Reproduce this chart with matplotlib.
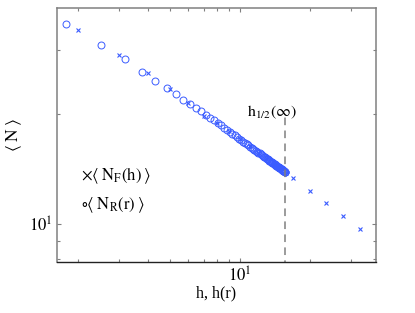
import numpy as np
import matplotlib
matplotlib.use("Agg")
import matplotlib.pyplot as plt
from matplotlib.ticker import LogLocator, NullFormatter, FixedLocator, FixedFormatter

plt.rcParams['font.family'] = ['Liberation Serif', 'DejaVu Serif']
plt.rcParams['mathtext.fontset'] = 'stix'

# <N_R(r)> plotted against h(r)  (circles)
h_r = [1.78, 2.53, 3.20, 3.80, 4.32, 4.87, 5.31, 5.69, 6.10, 6.47, 6.82,
       7.15, 7.45, 7.75, 8.02, 8.3, 8.55, 8.8, 9.05, 9.28, 9.5, 9.72, 9.93,
       10.13, 10.33, 10.52, 10.7, 10.88, 11.05, 11.22, 11.38, 11.54, 11.7,
       11.85, 12.0, 12.14, 12.28, 12.42, 12.55, 12.68, 12.81, 12.93, 13.05,
       13.17, 13.28, 13.39, 13.5, 13.6, 13.7, 13.8, 13.9, 14.0, 14.09, 14.18,
       14.27, 14.36, 14.44, 14.52, 14.6, 14.68, 14.76, 14.83, 14.9, 14.97,
       15.04, 15.11, 15.17, 15.23, 15.29, 15.35, 15.41, 15.47, 15.52, 15.57,
       15.62, 15.66, 15.7]
N_R = [35.3, 30.9, 28.3, 26.1, 24.7, 23.6, 22.7, 21.9, 21.3, 20.8, 20.4,
       19.96, 19.58, 19.23, 18.92, 18.63, 18.37, 18.13, 17.90, 17.69, 17.50,
       17.31, 17.14, 16.98, 16.83, 16.69, 16.55, 16.43, 16.31, 16.20, 16.09,
       15.99, 15.89, 15.79, 15.70, 15.62, 15.53, 15.45, 15.38, 15.31, 15.24,
       15.17, 15.11, 15.04, 14.98, 14.93, 14.87, 14.82, 14.77, 14.72, 14.67,
       14.62, 14.58, 14.54, 14.50, 14.45, 14.42, 14.38, 14.34, 14.31, 14.27,
       14.24, 14.21, 14.18, 14.15, 14.12, 14.09, 14.07, 14.04, 14.01, 13.99,
       13.96, 13.94, 13.92, 13.90, 13.88, 13.87]

# <N_F(h)> plotted against h  (crosses)
h_f = [2, 3, 4, 5, 6, 7, 8, 9, 10, 11, 12, 13, 14, 15,
       16.9, 20.0, 23.5, 27.8, 32.8]
N_F = [34.0, 29.0, 25.9, 23.5, 21.5, 19.8, 18.95, 17.95, 17.08, 16.35,
       15.70, 15.13, 14.62, 14.17,
       13.34, 12.31, 11.41, 10.52, 9.71]

h_half = 15.7   # h_1/2(inf)
blue = '#3a5cff'
grey = '#808080'

fig = plt.figure(figsize=(4.15, 3.13), dpi=100)
ax = fig.add_axes([0.1373, 0.1629, 0.7687, 0.8115])
ax.set_xscale('log')
ax.set_yscale('log')

ax.plot(h_f, N_F, linestyle='none', marker='x', color=blue,
        markersize=3.3, markeredgewidth=0.8)
ax.plot(h_r, N_R, linestyle='none', marker='o', markerfacecolor='none',
        markeredgecolor=blue, markersize=5, markeredgewidth=0.7)

ax.plot([h_half, h_half], [7.0, 19.9], color=grey, linestyle=(0, (5, 3.5)),
        linewidth=1.1)
ax.text(13.7, 20.3, r'$\mathrm{h}_{1/2}(\infty)$', ha='center', va='center',
        fontsize=11.5)

ax.set_xlim(1.63, 38.5)
ax.set_ylim(7.87, 39.1)

ax.xaxis.set_major_locator(FixedLocator([10]))
ax.xaxis.set_major_formatter(FixedFormatter([r'$10^1$']))
ax.xaxis.set_minor_locator(LogLocator(base=10, subs=np.arange(2, 10)))
ax.xaxis.set_minor_formatter(NullFormatter())
ax.yaxis.set_major_locator(FixedLocator([10]))
ax.yaxis.set_major_formatter(FixedFormatter([r'$10^1$']))
ax.yaxis.set_minor_locator(LogLocator(base=10, subs=np.arange(2, 10)))
ax.yaxis.set_minor_formatter(NullFormatter())

ax.tick_params(which='both', direction='in', top=True, right=True,
               color=grey, labelsize=12, pad=3)
ax.tick_params(which='major', length=3, width=0.8)
ax.tick_params(which='minor', length=2.5, width=0.8)

for side in ['left', 'right', 'top']:
    ax.spines[side].set_color(grey)
    ax.spines[side].set_linewidth(1.1)
ax.spines['bottom'].set_color('#222222')
ax.spines['bottom'].set_linewidth(1.0)

ax.set_xlabel('h, h(r)', fontsize=11.5, labelpad=0)
ax.set_ylabel(r'$\langle\;\mathrm{N}\;\rangle$', fontsize=12.5, labelpad=4)

ax.text(0.075, 0.339, r'$\times\langle\;\mathrm{N_F(h)}\;\rangle$',
        transform=ax.transAxes, fontsize=12, va='center')
ax.text(0.075, 0.224, r'$\circ\langle\;\mathrm{N_R(r)}\;\rangle$',
        transform=ax.transAxes, fontsize=12, va='center')

fig.savefig('out.png', dpi=100)
